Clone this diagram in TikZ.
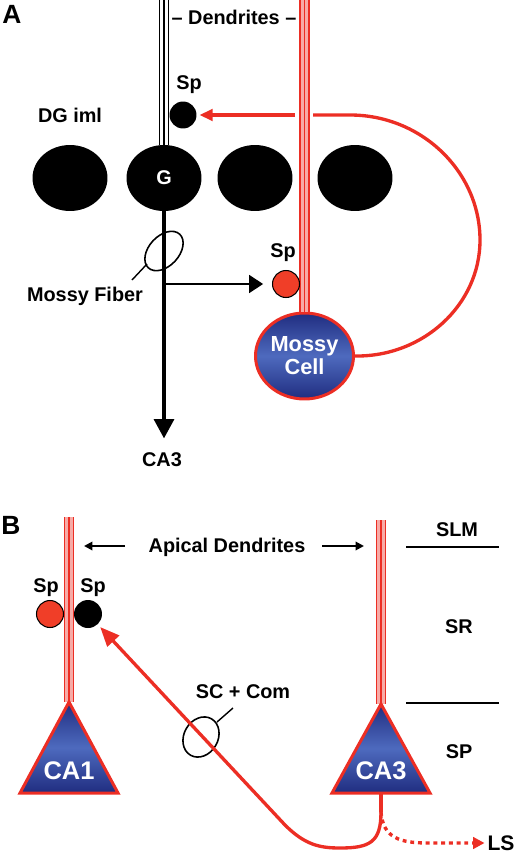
\documentclass[tikz,border=0pt]{standalone}
\usepackage{fontspec}
\setmainfont{Liberation Sans}
\usetikzlibrary{arrows.meta,shapes.geometric}
\definecolor{cellred}{RGB}{236,46,36}
\definecolor{spred}{RGB}{240,62,40}
\definecolor{somadark}{RGB}{32,45,128}
\definecolor{somalight}{RGB}{78,106,190}

\begin{document}
\begin{tikzpicture}[x=0.02cm,y=-0.02cm,
  lbl/.style={font=\bfseries\fontsize{11.3}{13}\selectfont,inner sep=0pt},
  panel/.style={font=\bfseries\fontsize{15}{17}\selectfont,inner sep=0pt},
  somatext/.style={text=white,inner sep=0pt,align=center},
  granule/.style={ellipse,fill=black,minimum width=1.5cm,minimum height=1.32cm,inner sep=0pt},
  spine/.style={circle,minimum size=0.54cm,inner sep=0pt},
  soma/.style={top color=somadark,bottom color=somadark,middle color=somalight,draw=cellred,line width=1.7pt},
  dend/.style={line width=0.8pt,double=white,double distance=4pt},
  reddend/.style={draw=cellred,line width=0.95pt,double=cellred!40,double distance=4.1pt},
  redaxon/.style={draw=cellred,line width=1.9pt},
  thinarrow/.style={line width=1.1pt,-{Triangle[length=4.8pt,width=4.8pt]}}]
  \useasboundingbox (0,0) rectangle (520,852);

  % ---- panel A ----
  \node[panel] (labA) at (12,14) {A};
  \node[lbl] (dendlbl) at (234,17) {– Dendrites –};
  \node[lbl] (dglbl) at (70,115) {DG iml};

  \node[granule] (gc1) at (70,178) {};
  \node[granule,somatext,font=\bfseries\fontsize{11.3}{13}\selectfont] (gcG) at (164,178) {G};
  \node[granule] (gc3) at (255,178) {};
  \node[granule] (gc4) at (355,178) {};

  \node[soma,ellipse,minimum width=1.96cm,minimum height=1.72cm,somatext,
    font=\bfseries\fontsize{12.4}{13}\selectfont] (mossy) at (304.5,356) {Mossy\\Cell};

  % dendrites
  \coordinate (gtop) at (164,0);
  \coordinate (mtop) at (304.5,0);
  \draw[dend] (gtop) -- (gcG.north);
  \draw[line width=0.8pt] (gtop) -- (gcG.north);
  \draw[reddend] (mtop) -- (mossy.north);
  \draw[cellred,line width=0.95pt] (mtop) -- (mossy.north);

  % spines
  \node[spine,fill=black] (spA) at (183,115) {};
  \node[lbl] (spAlbl) at (189,85) {Sp};
  \node[spine,fill=spred,draw=black,line width=0.6pt] (spR) at (286,284) {};
  \node[lbl] (spRlbl) at (283,253) {Sp};

  % mossy fiber
  \node[lbl] (ca3a) at (162,460) {CA3};
  \node[lbl] (mflbl) at (85,296) {Mossy Fiber};
  \draw[line width=0.9pt] (164,251) ellipse [x radius=0.46cm, y radius=0.30cm, rotate=47];
  \coordinate (mflead1) at (132,280);
  \coordinate (mflead2) at (147,264);
  \draw[line width=0.8pt] (mflead1) -- (mflead2);
  \draw[line width=2.6pt,-{Triangle[length=11pt,width=11pt]},shorten >=8pt]
    (gcG.south) -- (gcG.south |- ca3a.north);
  \coordinate (mfbranch) at (164,284);
  \draw[line width=1.6pt,-{Triangle[length=8pt,width=10pt]},shorten >=5pt] (mfbranch) -- (spR);

  % mossy cell axon back to the iml
  \coordinate (gapR) at (313,115);
  \coordinate (gapL) at (295,115);
  \draw[redaxon] (mossy.east) .. controls (423,357) and (480,305) .. (480,240)
    .. controls (480,172) and (422,115) .. (350,115) -- (gapR);
  \draw[redaxon,-{Triangle[length=7.5pt,width=6.5pt]},shorten >=1.5pt] (gapL) -- (spA);

  % ---- panel B ----
  \node[panel] (labB) at (11,525) {B};
  \coordinate (ca1top) at (69,517);
  \coordinate (ca1apex) at (69,702);
  \coordinate (ca3top) at (381,520);
  \coordinate (ca3apex) at (381,704);
  \draw[reddend] (ca1top) -- (ca1apex);
  \draw[cellred,line width=0.95pt] (ca1top) -- (ca1apex);
  \draw[reddend] (ca3top) -- (ca3apex);
  \draw[cellred,line width=0.95pt] (ca3top) -- (ca3apex);
  \shadedraw[soma] (ca1apex) -- (20,793) -- (118,793) -- cycle;
  \shadedraw[soma] (ca3apex) -- (332,793) -- (430,793) -- cycle;
  \node[somatext,font=\bfseries\fontsize{14.5}{16}\selectfont] (ca1) at (69,771) {CA1};
  \node[somatext,font=\bfseries\fontsize{14.5}{16}\selectfont] (ca3) at (381,771) {CA3};

  \node[lbl] (apical) at (227,547) {Apical Dendrites};
  \coordinate (apL1) at (125,546);
  \coordinate (apL2) at (84,546);
  \coordinate (apR1) at (322,546);
  \coordinate (apR2) at (364,546);
  \draw[thinarrow] (apL1) -- (apL2);
  \draw[thinarrow] (apR1) -- (apR2);

  % layers
  \node[lbl] (slm) at (457,530) {SLM};
  \node[lbl] (sr) at (459,627) {SR};
  \node[lbl] (sp) at (459,752) {SP};
  \draw[line width=1.1pt] (406,547) -- (499,547);
  \draw[line width=1.1pt] (406,703) -- (499,703);

  % spines on CA1 dendrite
  \node[spine,fill=spred,draw=black,line width=0.6pt] (spB1) at (50,614) {};
  \node[spine,fill=black,minimum size=0.56cm] (spB2) at (88,614) {};
  \node[lbl] (spB1lbl) at (46,588) {Sp};
  \node[lbl] (spB2lbl) at (93,588) {Sp};

  % Schaffer collaterals
  \node[lbl] (sclbl) at (243,692) {SC + Com};
  \draw[line width=0.9pt] (201,737) ellipse [x radius=0.42cm, y radius=0.34cm, rotate=60];
  \coordinate (sclead1) at (217,722);
  \coordinate (sclead2) at (233,708);
  \draw[line width=0.8pt] (sclead1) -- (sclead2);
  \coordinate (ca3base) at (381,793);
  \coordinate (ca3fork) at (381,812);
  \draw[redaxon] (ca3base) -- (ca3fork);
  \draw[redaxon,-{Triangle[length=11pt,width=9pt]},shorten >=2pt] (ca3fork)
    .. controls (381,842) and (370,848) .. (340,848)
    .. controls (320,848) and (305,845) .. (285,825) -- (spB2);
  \node[font=\bfseries\fontsize{12}{14}\selectfont,inner sep=0pt] (ls) at (501,843) {LS};
  \draw[cellred,line width=1.9pt,dash pattern=on 2.2pt off 2.2pt,
    -{Triangle[length=6.5pt,width=6.5pt]},shorten >=1.5pt]
    (ca3fork) .. controls (383,838) and (400,843) .. (428,843) -- (ls);
\end{tikzpicture}
\end{document}
